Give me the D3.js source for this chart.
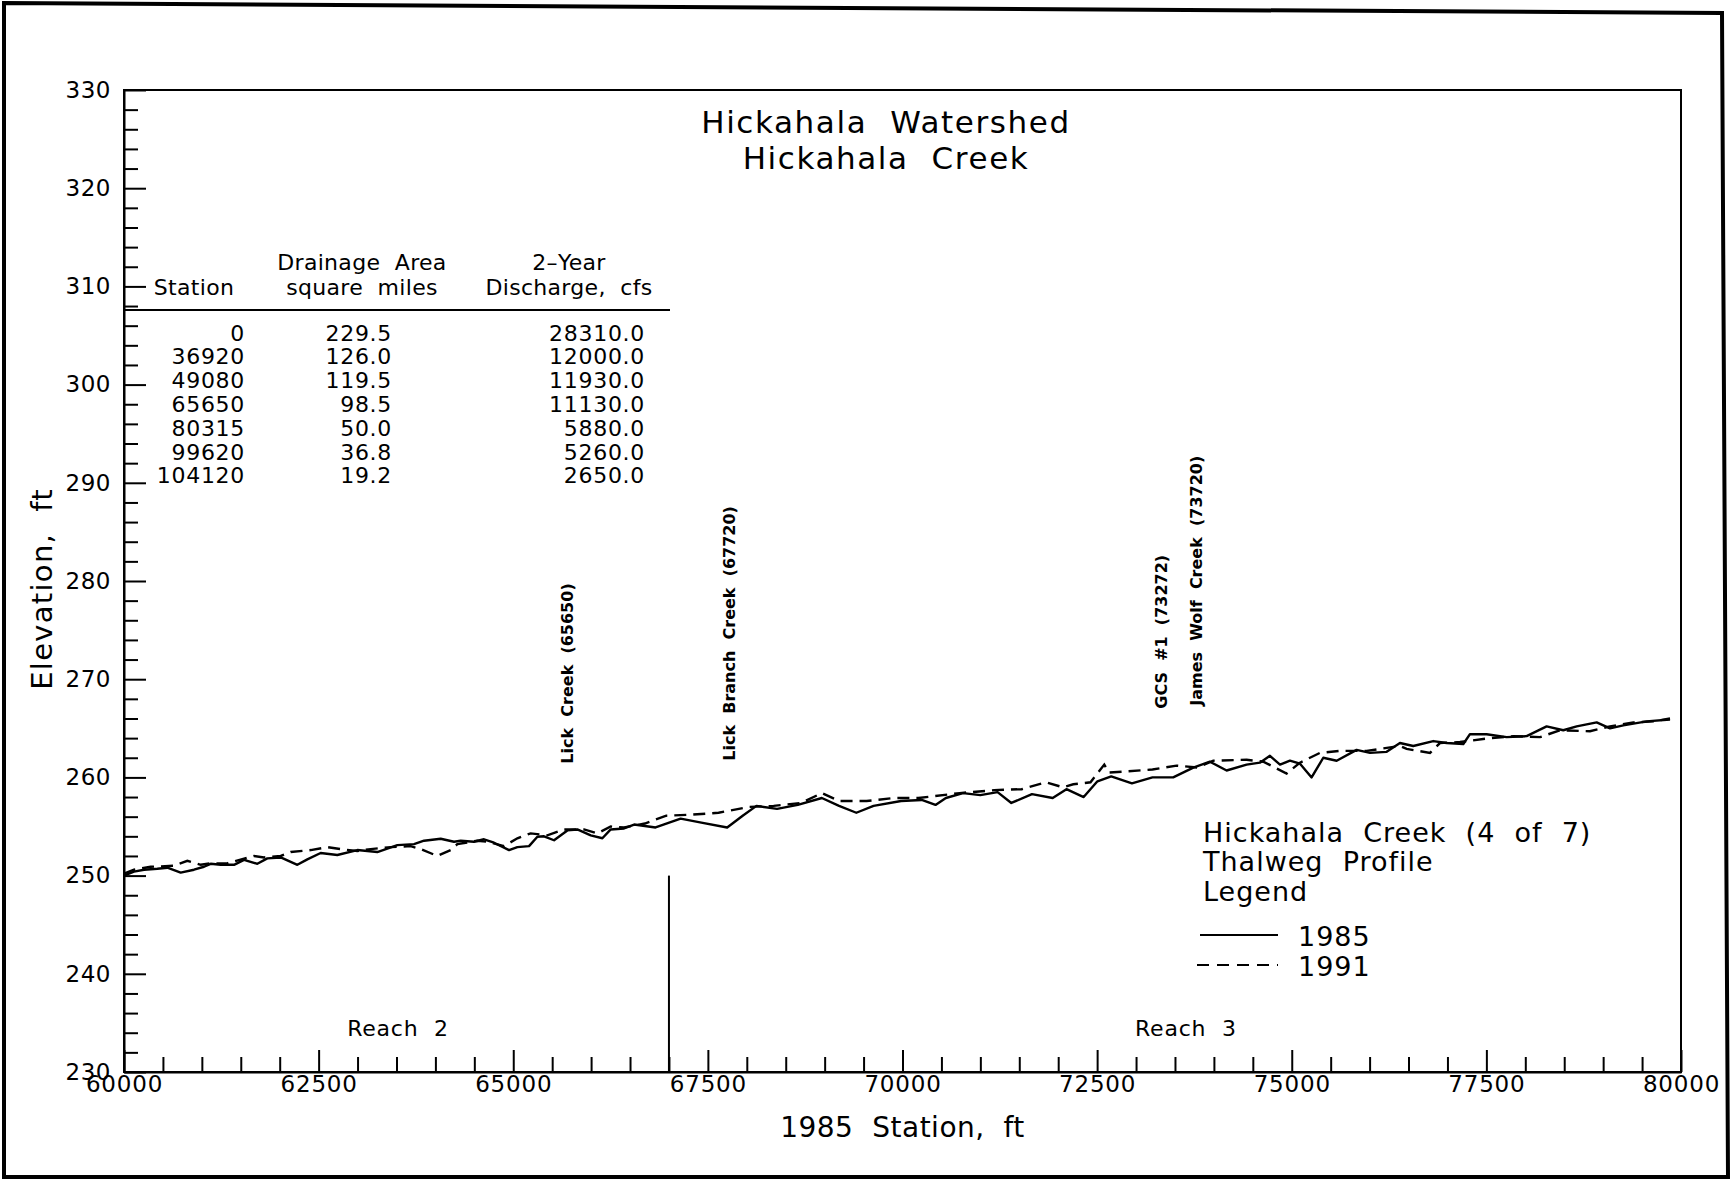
<!DOCTYPE html>
<html><head><meta charset="utf-8">
<script src="https://cdn.jsdelivr.net/npm/d3@7"></script>
<style>
html,body{margin:0;padding:0;background:#fff;}
svg text{font-family:"DejaVu Sans",sans-serif;fill:#000;}
</style></head>
<body><svg id="chart" width="1735" height="1180"></svg>
<script>
// ---- data ----
const titleLines = ["Hickahala  Watershed", "Hickahala  Creek"];
const xTicksMajor = [60000, 62500, 65000, 67500, 70000, 72500, 75000, 77500, 80000];
const yTicksMajor = [230, 240, 250, 260, 270, 280, 290, 300, 310, 320, 330];

const stations1985 = [60000,60128,60257,60428,60557,60728,60899,61028,61113,61242,61413,61542,61713,61841,62013,62227,62355,62526,62740,62997,63254,63511,63725,63854,64068,64239,64325,64496,64624,64753,64946,65053,65203,65310,65395,65524,65695,65823,65995,66145,66252,66423,66553,66828,67150,67416,67748,67947,68124,68389,68655,68964,69185,69407,69628,69982,70247,70424,70557,70778,71000,71221,71398,71663,71929,72106,72327,72504,72681,72947,73211,73477,73735,73949,74163,74420,74591,74720,74849,74977,75106,75255,75405,75577,75833,76005,76219,76390,76561,76818,76990,77204,77289,77503,77760,78017,78274,78488,78660,78917,79088,79259,79559,79859];
const elev1985 = [250.0,250.4,250.6,250.7,250.8,250.3,250.6,250.9,251.2,251.1,251.1,251.6,251.2,251.75,251.85,251.1,251.65,252.3,252.1,252.6,252.4,253.1,253.2,253.55,253.75,253.45,253.55,253.45,253.7,253.35,252.6,252.9,253.0,253.95,254.0,253.6,254.6,254.7,254.1,253.8,254.7,254.8,255.2,254.9,255.8,255.4,254.9,256.1,257.1,256.8,257.2,257.9,257.1,256.4,257.1,257.6,257.7,257.2,257.9,258.4,258.2,258.5,257.4,258.3,257.9,258.8,258.0,259.6,260.1,259.4,260.0,260.0,261.0,261.6,260.7,261.3,261.5,262.2,261.3,261.7,261.4,260.0,262.0,261.7,262.8,262.5,262.6,263.5,263.2,263.7,263.5,263.4,264.4,264.4,264.1,264.2,265.2,264.8,265.2,265.6,265.0,265.3,265.7,265.9];

const stations1991 = [60000,60128,60343,60642,60814,60985,61113,61327,61670,61798,62013,62141,62398,62612,62783,62997,63169,63426,63682,63811,64025,64196,64282,64539,64667,64881,65053,65224,65438,65652,65909,66080,66252,66423,66691,66966,67283,67637,68035,68345,68699,68964,69185,69539,69893,70203,70734,71176,71530,71840,72061,72194,72415,72592,72650,72857,73211,73521,73786,73992,74420,74634,74934,75106,75363,75620,75962,76390,76476,76776,76904,77161,77546,77846,78188,78445,78831,79088,79388,79645,79859];
const elev1991 = [250.2,250.6,250.9,251.0,251.5,251.1,251.25,251.25,252.0,251.85,252.0,252.4,252.6,252.9,252.7,252.5,252.7,252.9,253.0,252.7,252.0,252.6,253.2,253.55,253.45,253.0,253.8,254.3,254.1,254.7,254.7,254.3,255.0,254.9,255.3,256.1,256.2,256.4,257.0,257.1,257.4,258.4,257.6,257.6,257.9,257.9,258.4,258.7,258.8,259.5,259.0,259.3,259.5,261.3,260.5,260.6,260.8,261.2,261.0,261.7,261.8,261.6,260.4,261.5,262.5,262.7,262.7,263.2,262.9,262.5,263.5,263.6,264.0,264.2,264.1,264.8,264.7,265.2,265.6,265.7,266.0];

const tableHeaders = [["Station",""],["Drainage  Area","square  miles"],["2\u2013Year","Discharge,  cfs"]];
const tableStation = ["0","36920","49080","65650","80315","99620","104120"];
const tableArea = ["229.5","126.0","119.5","98.5","50.0","36.8","19.2"];
const tableDischarge = ["28310.0","12000.0","11930.0","11130.0","5880.0","5260.0","2650.0"];

const tribLabels = ["Lick  Creek  (65650)","Lick  Branch  Creek  (67720)","GCS  #1  (73272)","James  Wolf  Creek  (73720)"];
const tribStations = [65650, 67720, 73272, 73720];

const reachLabels = ["Reach  2","Reach  3"];
const reachBoundary = 67000;
const legendTitle = ["Hickahala  Creek  (4  of  7)","Thalweg  Profile","Legend"];
const seriesNames = ["1985","1991"];

// ---- layout ----
const svg = d3.select("#chart");
const L = 124, R = 1681, T = 90, B = 1072;
const x = d3.scaleLinear().domain([60000, 80000]).range([L, R]);
const y = d3.scaleLinear().domain([230, 330]).range([B, T]);

// outer frame (slightly skewed scan border)
svg.append("path").attr("d","M4,3 L1722,13 L1728,1177 L4,1177 Z")
  .attr("fill","none").attr("stroke","#000").attr("stroke-width",4);

// plot box
svg.append("rect").attr("x",L).attr("y",T).attr("width",R-L).attr("height",B-T)
  .attr("fill","none").attr("stroke","#000").attr("stroke-width",2);

// axes
const xMinor = d3.range(60000, 80001, 500).filter(v => v % 2500 !== 0);
const yMinor = d3.range(230, 331, 2).filter(v => v % 10 !== 0);
svg.append("g").attr("transform",`translate(0,${B})`)
  .call(d3.axisBottom(x).tickValues(xMinor).tickSizeInner(-15).tickSizeOuter(0).tickFormat(""))
  .call(g => g.select(".domain").remove())
  .selectAll("line").attr("stroke-width",2);
svg.append("g").attr("transform",`translate(0,${B})`)
  .call(d3.axisBottom(x).tickValues(xTicksMajor).tickSizeInner(-22).tickSizeOuter(0).tickPadding(4).tickFormat(d3.format("d")))
  .call(g => g.select(".domain").attr("stroke-width",2))
  .call(g => g.selectAll("line").attr("stroke-width",2))
  .call(g => g.selectAll("text").attr("font-size",23).attr("letter-spacing",0.8).attr("font-family","DejaVu Sans").attr("fill","#000"));
svg.append("g").attr("transform",`translate(${L},0)`)
  .call(d3.axisLeft(y).tickValues(yMinor).tickSizeInner(-14).tickSizeOuter(0).tickFormat(""))
  .call(g => g.select(".domain").remove())
  .selectAll("line").attr("stroke-width",2);
svg.append("g").attr("transform",`translate(${L},0)`)
  .call(d3.axisLeft(y).tickValues(yTicksMajor).tickSizeInner(-22).tickSizeOuter(0).tickPadding(13).tickFormat(d3.format("d")))
  .call(g => g.select(".domain").attr("stroke-width",2))
  .call(g => g.selectAll("line").attr("stroke-width",2))
  .call(g => g.selectAll("text").attr("font-size",23).attr("letter-spacing",0.5).attr("font-family","DejaVu Sans").attr("fill","#000"));

// axis titles
svg.append("text").attr("transform",`translate(42,${(T+B)/2 + 8}) rotate(-90)`)
  .attr("text-anchor","middle").attr("dominant-baseline","central")
  .attr("font-size",29).attr("letter-spacing",1.3).style("white-space","pre").text("Elevation,  ft");
svg.append("text").attr("x",(L+R)/2).attr("y",1127)
  .attr("text-anchor","middle").attr("dominant-baseline","central")
  .attr("font-size",28).attr("letter-spacing",0.5).style("white-space","pre").text("1985  Station,  ft");

// title
svg.selectAll(".title").data(titleLines).join("text")
  .attr("x",886).attr("y",(d,i)=>122 + i*36)
  .attr("text-anchor","middle").attr("dominant-baseline","central")
  .attr("font-size",31).attr("letter-spacing",1.6).style("white-space","pre").text(d=>d);

// table
const colCenters = [194, 362, 569];
tableHeaders.forEach((h,i)=>{
  h.forEach((t,j)=>{
    if(!t) return;
    const yy = (i===0) ? 287 : (j===0 ? 262 : 287);
    svg.append("text").attr("x",colCenters[i]).attr("y",yy)
      .attr("text-anchor","middle").attr("dominant-baseline","central")
      .attr("font-size",22).attr("letter-spacing",0.3).style("white-space","pre").text(t);
  });
});
svg.append("line").attr("x1",L).attr("x2",670).attr("y1",310).attr("y2",310)
  .attr("stroke","#000").attr("stroke-width",2);
const rowY = i => 333 + i*23.8;
const cols = [[tableStation,245],[tableArea,392],[tableDischarge,645]];
cols.forEach(([arr,xr])=>{
  svg.selectAll(null).data(arr).join("text")
    .attr("x",xr).attr("y",(d,i)=>rowY(i))
    .attr("text-anchor","end").attr("dominant-baseline","central")
    .attr("font-size",22).attr("letter-spacing",0.7).text(d=>d);
});

// profile lines
const line = d3.line().x(d=>x(d[0])).y(d=>y(d[1]));
const d1985 = stations1985.map((s,i)=>[s,elev1985[i]]);
const d1991 = stations1991.map((s,i)=>[s,elev1991[i]]);
svg.append("path").datum(d1991).attr("d",line).attr("fill","none")
  .attr("stroke","#000").attr("stroke-width",2.4).attr("stroke-dasharray","12,7");
svg.append("path").datum(d1985).attr("d",line).attr("fill","none")
  .attr("stroke","#000").attr("stroke-width",2.4).attr("stroke-linejoin","round");

// tributary labels (vertical)
const tribBaseElev = [261.4, 261.7, 267.0, 267.3];
tribLabels.forEach((t,i)=>{
  svg.append("text")
    .attr("transform",`translate(${x(tribStations[i])+4},${y(tribBaseElev[i])}) rotate(-90)`)
    .attr("text-anchor","start").attr("dominant-baseline","central")
    .attr("font-family","Liberation Sans, Arial, sans-serif").attr("font-weight","bold")
    .attr("font-size",16).style("white-space","pre").text(t);
});

// reach boundary and labels
svg.append("line").attr("x1",x(reachBoundary)).attr("x2",x(reachBoundary))
  .attr("y1",y(250)).attr("y2",y(230)).attr("stroke","#000").attr("stroke-width",2);
const reachStations = [63520, 73640];
reachLabels.forEach((t,i)=>{
  svg.append("text").attr("x",x(reachStations[i])).attr("y",y(234.4))
    .attr("text-anchor","middle").attr("dominant-baseline","central")
    .attr("font-size",22).attr("letter-spacing",0.8).style("white-space","pre").text(t);
});

// legend
legendTitle.forEach((t,i)=>{
  svg.append("text").attr("x",1203).attr("y",832 + i*29.5)
    .attr("dominant-baseline","central").attr("font-size",27).attr("letter-spacing",1.0)
    .style("white-space","pre").text(t);
});
svg.append("line").attr("x1",1200).attr("x2",1278).attr("y1",935).attr("y2",935)
  .attr("stroke","#000").attr("stroke-width",2);
svg.append("line").attr("x1",1197).attr("x2",1278).attr("y1",965).attr("y2",965)
  .attr("stroke","#000").attr("stroke-width",2).attr("stroke-dasharray","12,8");
seriesNames.forEach((t,i)=>{
  svg.append("text").attr("x",1298).attr("y",936 + i*30)
    .attr("dominant-baseline","central").attr("font-size",27).attr("letter-spacing",1.0).text(t);
});
</script></body></html>
